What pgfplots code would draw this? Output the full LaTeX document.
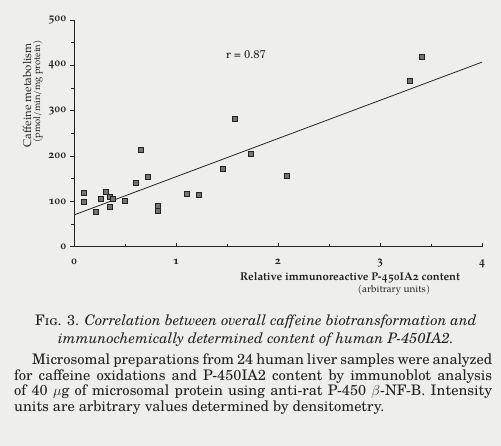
\documentclass[border=0pt]{standalone}
\usepackage{pgfplots}
\pgfplotsset{compat=1.18}
\usepackage{fontspec}
\setmainfont{TeX Gyre Schola}
\newfontfamily\pal{TeX Gyre Pagella}[Numbers=OldStyle]
\definecolor{bg}{RGB}{238,238,236}
\definecolor{ink}{RGB}{35,35,35}
\begin{document}
\begin{tikzpicture}[x=1bp,y=1bp]
\useasboundingbox (0,0) rectangle (501,446);
\fill[bg] (0,0) rectangle (501,446);
\begin{axis}[
  at={(74bp,199.3bp)}, anchor=south west,
  scale only axis, width=408bp, height=226.7bp,
  xmin=0, xmax=4, ymin=0, ymax=500,
  axis lines=left, axis line style={-, ink, line width=0.7pt},
  xtick={0,1,2,3,4}, ytick={0,100,200,300,400,500},
  minor x tick num=1, minor y tick num=1,
  xtick align=inside, ytick align=outside,
  major tick length=4bp, minor tick length=3bp,
  tick style={ink, line width=0.6pt},
  /pgf/number format/assume math mode=true,
  tick label style={font=\pal\fontsize{11.5}{12}\selectfont\bfseries, text=ink},
  xticklabel style={yshift=-9bp},
  clip=false,
]
\addplot[only marks, mark=square*, mark size=2.5bp,
  mark options={draw=ink, fill=black!55, line width=0.7pt}] coordinates {
(0.10,119) (0.10,98) (0.21,76) (0.26,105) (0.31,120) (0.35,109) (0.35,88)
(0.38,106) (0.50,102) (0.61,140) (0.66,214) (0.72,153) (0.82,90) (0.82,79)
(1.11,116) (1.22,114) (1.46,171) (1.58,282) (1.73,204) (2.09,156)
(3.29,365) (3.41,419)
};
\addplot[ink, line width=0.8pt] coordinates {(0,70) (4,407)};
\end{axis}
\begin{scope}[text=ink]
\node[rotate=90, anchor=east, inner sep=0, font=\pal\fontsize{11.5}{12}\selectfont] at (27,403) {Caffeine metabolism};
\node[rotate=90, anchor=east, inner sep=0, font=\pal\fontsize{9.5}{10}\selectfont] at (38,406) {(pmol/min/mg protein)};
\node[font=\pal\fontsize{11.3}{12}\selectfont\bfseries] at (350,168) {Relative immunoreactive P-450IA2 content};
\node[font=\pal\fontsize{10}{11}\selectfont] at (394,156) {(arbitrary units)};
\node[font=\fontsize{11.3}{12}\selectfont] at (246,391) {r = 0.87};
\node[anchor=base, font=\fontsize{14.6}{16}\selectfont] at (256,120) {F\textsc{ig}. 3. \textit{Correlation between overall caffeine biotransformation and}};
\node[anchor=base, font=\fontsize{14.6}{16}\selectfont] at (256,102) {\textit{immunochemically determined content of human P-450IA2.}};
\node[anchor=base west, inner sep=0, font=\fontsize{14.6}{16}\selectfont] at (32,81) {\makebox[460bp][s]{Microsomal preparations from 24 human liver samples were analyzed}};
\node[anchor=base west, inner sep=0, font=\fontsize{14.6}{16}\selectfont] at (14,65) {\makebox[478bp][s]{for caffeine oxidations and P-450IA2 content by immunoblot analysis}};
\node[anchor=base west, inner sep=0, font=\fontsize{14.6}{16}\selectfont] at (14,50) {\makebox[478bp][s]{of 40 $\mu$g of microsomal protein using anti-rat P-450 $\beta$-NF-B. Intensity}};
\node[anchor=base west, inner sep=0, font=\fontsize{14.6}{16}\selectfont] at (14,34) {units are arbitrary values determined by densitometry.};
\end{scope}
\end{tikzpicture}
\end{document}
